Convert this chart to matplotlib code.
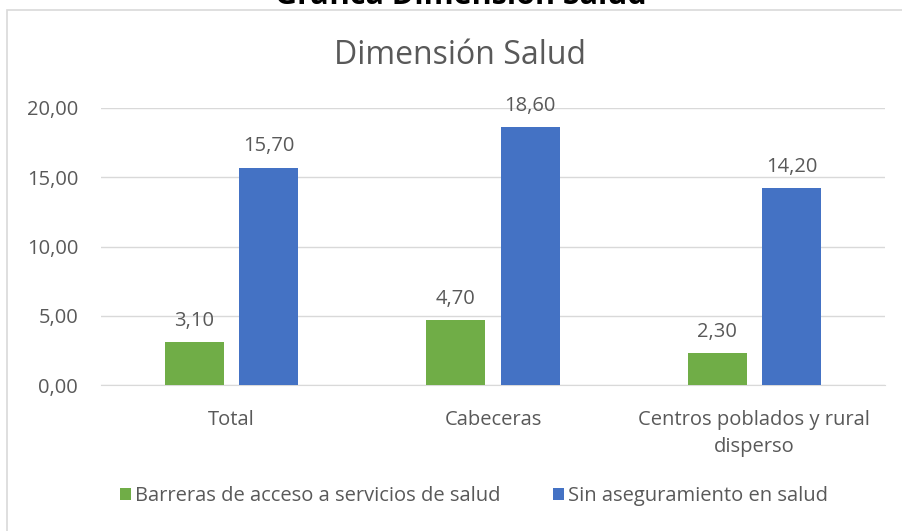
import matplotlib
matplotlib.use("Agg")
import matplotlib.pyplot as plt
from matplotlib.patches import Rectangle
import numpy as np

categories = ["Total", "Cabeceras", "Centros poblados y rural\ndisperso"]
series_names = ["Barreras de acceso a servicios de salud", "Sin aseguramiento en salud"]
barreras = [3.10, 4.70, 2.30]
sin_aseg = [15.70, 18.60, 14.20]
yticks = [0, 5, 10, 15, 20]

GREEN = "#70AD47"
BLUE = "#4472C4"
TXT = "#595959"
GRID = "#D9D9D9"
FONT = ["Open Sans", "DejaVu Sans"]
FS = 14.5

W, H = 902, 531
fig = plt.figure(figsize=(W / 100, H / 100), dpi=100)
fig.patch.set_facecolor("white")

# outer chart border (left and top visible)
fig.add_artist(Rectangle((6.5 / W, -0.05), 1.2, (H - 9.5) / H + 0.05,
                         transform=fig.transFigure, fill=False,
                         edgecolor="#D9D9D9", linewidth=1.2))

# clipped document caption at top
fig.text(461 / W, 1 - 4 / H, "Gráfica Dimensión Salud", ha="center", va="baseline",
         fontsize=22, fontweight="bold", color="black", family=FONT)

ax = fig.add_axes([101 / W, 1 - 385 / H, (885 - 101) / W, (385 - 108) / H])
x = np.arange(len(categories))
bw = 0.225
off = 0.142
b1 = ax.bar(x - off, barreras, width=bw, color=GREEN, label=series_names[0], zorder=3)
b2 = ax.bar(x + off, sin_aseg, width=bw, color=BLUE, label=series_names[1], zorder=3)

def fmt(v):
    return f"{v:.2f}".replace(".", ",")

for bars, vals in ((b1, barreras), (b2, sin_aseg)):
    for r, v in zip(bars, vals):
        ax.annotate(fmt(v), (r.get_x() + r.get_width() / 2, v), xytext=(0, 8),
                    textcoords="offset points", ha="center", va="bottom",
                    fontsize=FS, color=TXT, family=FONT)

ax.set_xlim(-0.5, len(categories) - 0.5)
ax.set_ylim(0, 20)
ax.set_yticks(yticks)
ax.set_yticklabels([fmt(t) for t in yticks], fontsize=FS, color=TXT, family=FONT)
ax.set_xticks(x)
ax.set_xticklabels(categories, fontsize=FS, color=TXT, family=FONT, linespacing=1.45)
ax.tick_params(axis="both", length=0)
ax.tick_params(axis="y", pad=16.5)
ax.tick_params(axis="x", pad=18)
ax.grid(axis="y", color=GRID, linewidth=1, zorder=0)
for s in ("top", "right", "left"):
    ax.spines[s].set_visible(False)
ax.spines["bottom"].set_color(GRID)
ax.set_axisbelow(True)

fig.text(460 / W, 1 - 55 / H, "Dimensión Salud", ha="center", va="center",
         fontsize=23, color=TXT, family=FONT)

leg = fig.legend(handles=[b1, b2], loc="center", bbox_to_anchor=(474 / W, 1 - 496 / H),
                 ncol=2, frameon=False, handlelength=0.55, handleheight=0.55,
                 handletextpad=0.2, columnspacing=2.6, prop={"family": FONT, "size": FS})
for t in leg.get_texts():
    t.set_color(TXT)

fig.savefig("out.png", dpi=100, facecolor="white")
